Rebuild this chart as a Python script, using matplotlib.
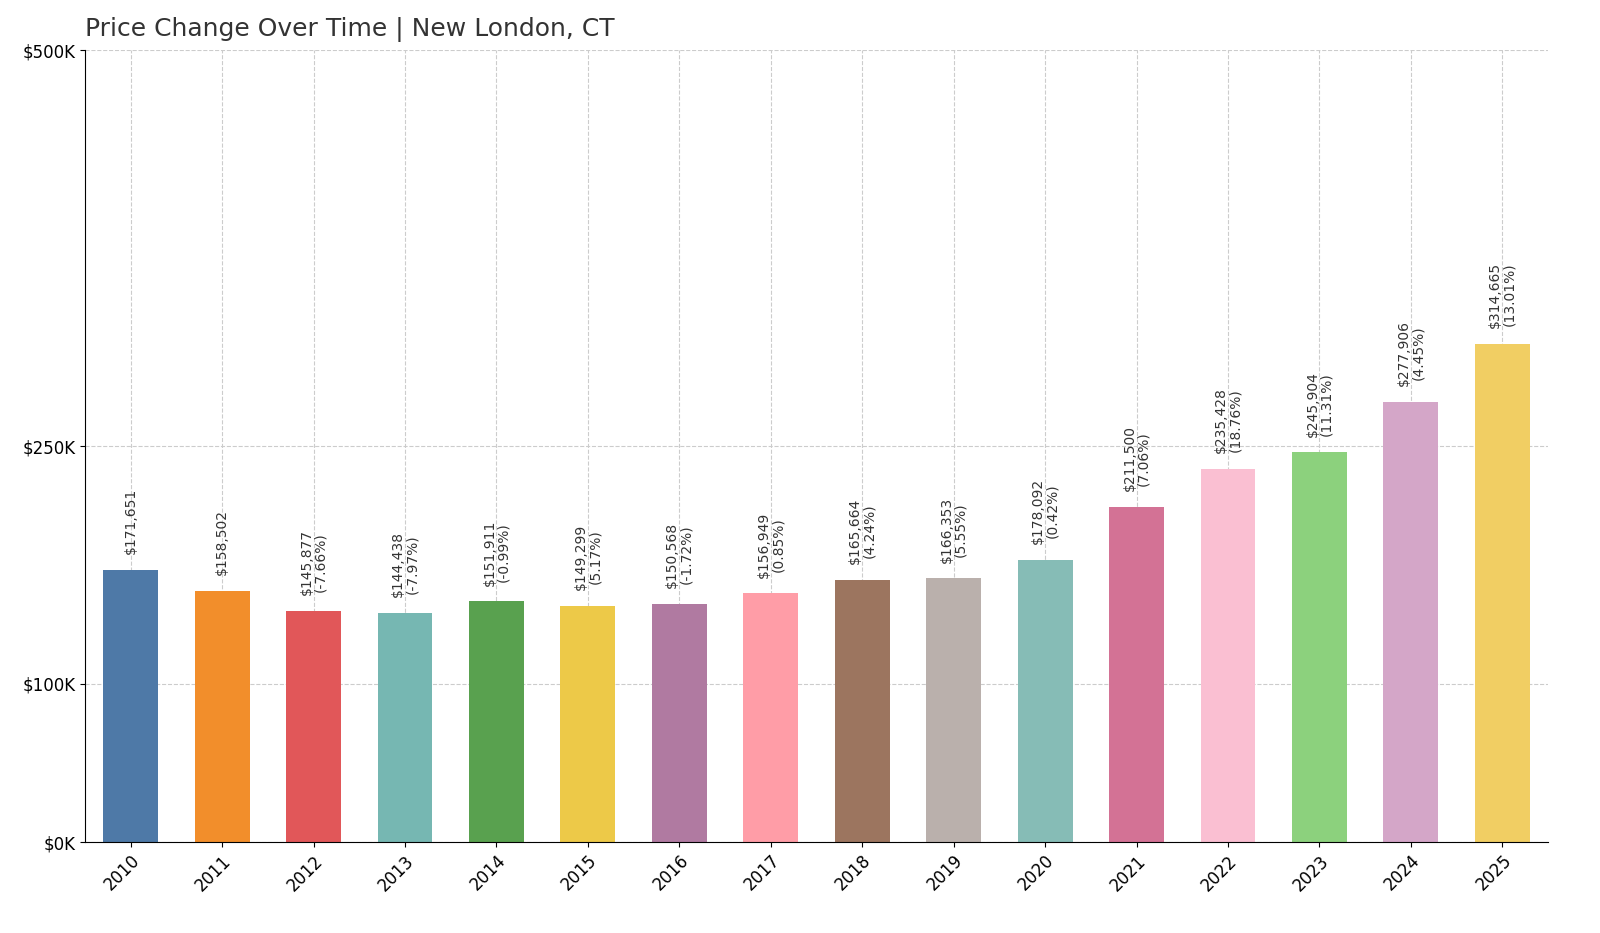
import matplotlib
matplotlib.use("Agg")
import matplotlib.pyplot as plt
from matplotlib.ticker import FixedLocator

years = ["2010","2011","2012","2013","2014","2015","2016","2017","2018","2019","2020","2021","2022","2023","2024","2025"]
values = [171651,158502,145877,144438,151911,149299,150568,156949,165664,166353,178092,211500,235428,245904,277906,314665]
changes = [None,None,"-7.66%","-7.97%","-0.99%","5.17%","-1.72%","0.85%","4.24%","5.55%","0.42%","7.06%","18.76%","11.31%","4.45%","13.01%"]
colors = ["#4e79a7","#f28e2b","#e15759","#76b7b2","#59a14f","#edc948","#b07aa1","#ff9da7",
          "#9c755f","#bab0ac","#86bcb6","#d37295","#fabfd2","#8cd17d","#d4a6c8","#f1ce63"]

fig = plt.figure(figsize=(16, 9.33), dpi=100)
ax = fig.add_axes([85/1600, 1-842/933, (1548-85)/1600, (842-50)/933])
x = range(len(years))
ax.bar(x, values, width=0.6, color=colors, zorder=2)
ax.set_ylim(0, 500000)
ax.set_xlim(-0.5, len(years)-0.5)
ax.yaxis.set_major_locator(FixedLocator([0,100000,250000,500000]))
ax.set_yticklabels(["$0K","$100K","$250K","$500K"], fontsize=12)
ax.set_xticks(list(x))
ax.set_xticklabels(years, rotation=45, ha="right", rotation_mode="anchor", fontsize=12)
ax.grid(True, linestyle="--", color="#cccccc", linewidth=0.8, zorder=0)
ax.set_axisbelow(True)
ax.spines["top"].set_visible(False)
ax.spines["right"].set_visible(False)
for i, (v, c) in enumerate(zip(values, changes)):
    txt = f"${v:,}" if c is None else f"${v:,}\n({c})"
    ax.text(i, v + 10000, txt, rotation=90, ha="center", va="bottom", fontsize=10, color="#333333", linespacing=1.0)
fig.text(85/1600, 1-30/933, "Price Change Over Time | New London, CT", fontsize=18, color="#333333", va="center", ha="left")
fig.savefig("out.png", dpi=100)
